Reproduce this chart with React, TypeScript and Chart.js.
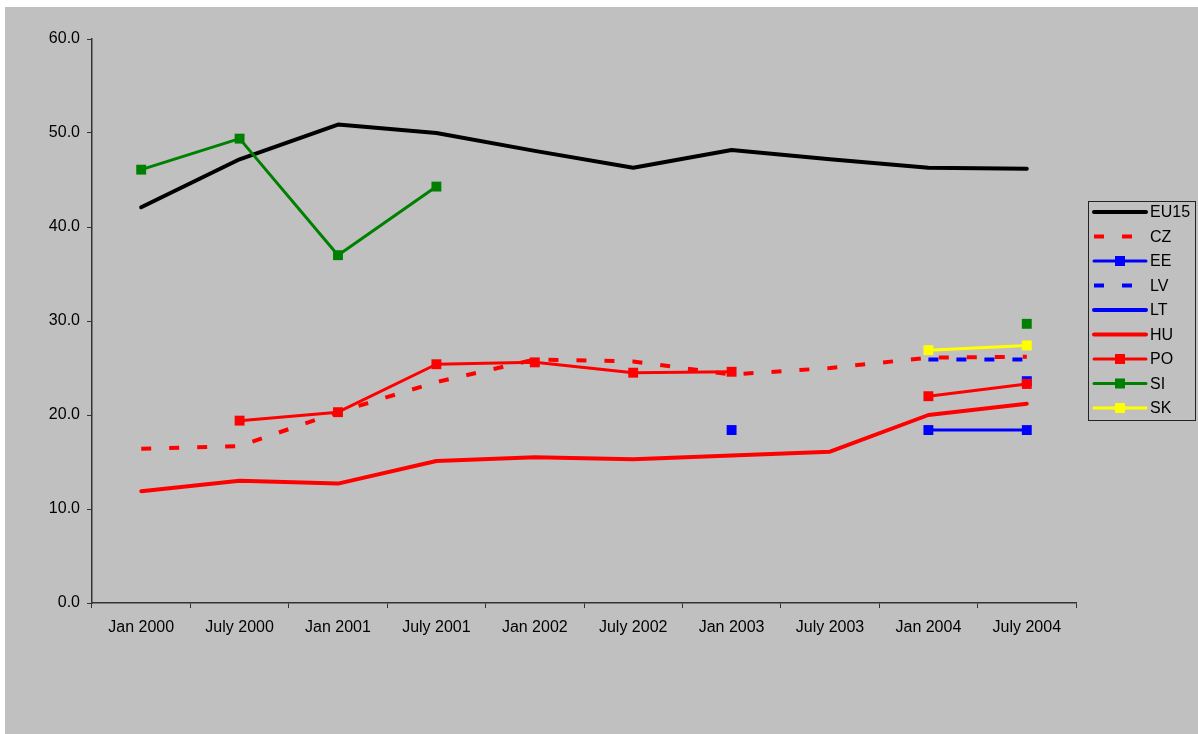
import React, { useEffect, useRef } from "react";
import { Chart, registerables } from "chart.js";

Chart.register(...registerables);

const categories = ["Jan 2000", "July 2000", "Jan 2001", "July 2001", "Jan 2002", "July 2002", "Jan 2003", "July 2003", "Jan 2004", "July 2004"];
const eu15 = [42.1, 47.2, 50.9, 50.0, 48.1, 46.3, 48.2, 47.2, 46.3, 46.2];
const cz = [16.4, 16.7, 20.3, 23.5, 25.9, 25.7, 24.3, 25.0, 26.1, 26.2];
const ee = [null, null, null, null, null, null, 18.4, null, 18.4, 18.4];
const lv = [null, null, null, null, null, null, null, null, 25.9, 25.9];
const lt = [null, null, null, null, null, null, null, null, null, 23.6];
const hu = [11.9, 13.0, 12.7, 15.1, 15.5, 15.3, 15.7, 16.1, 20.0, 21.2];
const po = [null, 19.4, 20.3, 25.4, 25.6, 24.5, 24.6, null, 22.0, 23.3];
const si = [46.1, 49.4, 37.0, 44.3, null, null, null, null, null, 29.7];
const sk = [null, null, null, null, null, null, null, null, 26.9, 27.4];
const yTicks = [0, 10, 20, 30, 40, 50, 60];

const FONT = "'Liberation Sans', Arial, sans-serif";

type Series = {
  label: string;
  data: (number | null)[];
  color: string;
  width: number;
  dash: number[];
  marker: boolean;
  legendMarker: boolean;
};

const series: Series[] = [
  { label: "EU15", data: eu15, color: "#000000", width: 4, dash: [], marker: false, legendMarker: false },
  { label: "CZ", data: cz, color: "#FF0000", width: 4, dash: [10, 18], marker: false, legendMarker: false },
  { label: "EE", data: ee, color: "#0000FF", width: 3, dash: [], marker: true, legendMarker: true },
  { label: "LV", data: lv, color: "#0000FF", width: 4, dash: [10, 18], marker: false, legendMarker: false },
  { label: "LT", data: lt, color: "#0000FF", width: 4, dash: [], marker: true, legendMarker: false },
  { label: "HU", data: hu, color: "#FF0000", width: 4, dash: [], marker: false, legendMarker: false },
  { label: "PO", data: po, color: "#FF0000", width: 3, dash: [], marker: true, legendMarker: true },
  { label: "SI", data: si, color: "#008000", width: 3, dash: [], marker: true, legendMarker: true },
  { label: "SK", data: sk, color: "#FFFF00", width: 3, dash: [], marker: true, legendMarker: true },
];

const legendPlugin = {
  id: "customLegend",
  afterDraw(chart: any) {
    const ctx = chart.ctx as CanvasRenderingContext2D;
    const bx = 1083.5, by = 194.5, bw = 107, bh = 219;
    ctx.save();
    ctx.strokeStyle = "#222222";
    ctx.lineWidth = 1;
    ctx.strokeRect(bx, by, bw, bh);
    series.forEach((s, i) => {
      const y = 205 + i * 24.5;
      const x0 = 1089, x1 = 1141;
      ctx.beginPath();
      ctx.strokeStyle = s.color;
      ctx.lineWidth = s.width;
      ctx.setLineDash(s.dash);
      ctx.lineCap = s.dash.length ? "butt" : "round";
      ctx.moveTo(x0, y);
      ctx.lineTo(x1, y);
      ctx.stroke();
      ctx.setLineDash([]);
      if (s.legendMarker) {
        ctx.fillStyle = s.color;
        ctx.fillRect((x0 + x1) / 2 - 5, y - 5, 10, 10);
      }
      ctx.fillStyle = "#000000";
      ctx.font = `16px ${FONT}`;
      ctx.textAlign = "left";
      ctx.textBaseline = "middle";
      ctx.fillText(s.label, 1145, y + 1);
    });
    ctx.restore();
  },
};

export default function App() {
  const ref = useRef<HTMLCanvasElement | null>(null);
  useEffect(() => {
    if (!ref.current) return;
    const n = series.length;
    const chart = new Chart(ref.current, {
      type: "line",
      data: {
        labels: categories,
        datasets: series.map((s, i) => ({
          label: s.label,
          data: s.data,
          borderColor: s.color,
          backgroundColor: s.color,
          borderWidth: s.width,
          borderDash: s.dash,
          borderCapStyle: s.dash.length ? "butt" : "round",
          borderJoinStyle: "round",
          pointStyle: "rect",
          pointRadius: s.marker ? 7 : 0,
          pointBorderWidth: 0,
          pointHoverRadius: s.marker ? 7 : 0,
          spanGaps: false,
          tension: 0,
          fill: false,
          order: n - i,
        })) as any,
      },
      options: {
        responsive: false,
        animation: false,
        devicePixelRatio: 1,
        events: [],
        layout: { padding: { left: 0, right: 122, top: 32, bottom: 91 } },
        plugins: { legend: { display: false }, tooltip: { enabled: false } },
        scales: {
          x: {
            type: "category",
            offset: true,
            grid: {
              offset: true,
              drawOnChartArea: false,
              drawTicks: true,
              tickLength: 5,
              tickColor: "#333333",
              tickWidth: 1,
            },
            border: { display: true, color: "#333333", width: 1.5 },
            ticks: {
              color: "#000000",
              font: { family: FONT, size: 16 },
              padding: 10,
              maxRotation: 0,
              autoSkip: false,
            },
            afterFit(scale: any) {
              scale.height = 40;
            },
          },
          y: {
            min: 0,
            max: 60,
            afterBuildTicks(scale: any) {
              scale.ticks = yTicks.map((v) => ({ value: v }));
            },
            grid: {
              drawOnChartArea: false,
              drawTicks: true,
              tickLength: 5,
              tickColor: "#333333",
              tickWidth: 1,
            },
            border: { display: true, color: "#333333", width: 1.5 },
            ticks: {
              color: "#000000",
              font: { family: FONT, size: 16 },
              padding: 7,
              callback: (v: any) => Number(v).toFixed(1),
            },
            afterFit(scale: any) {
              scale.width = 87;
            },
          },
        },
      },
      plugins: [legendPlugin],
    });
    return () => chart.destroy();
  }, []);
  return (
    <div style={{ position: "absolute", left: 0, top: 0, width: 1198, height: 734, background: "#ffffff" }}>
      <canvas
        ref={ref}
        width={1193}
        height={727}
        style={{ position: "absolute", left: 5, top: 7, width: 1193, height: 727, background: "#C0C0C0" }}
      />
    </div>
  );
}
